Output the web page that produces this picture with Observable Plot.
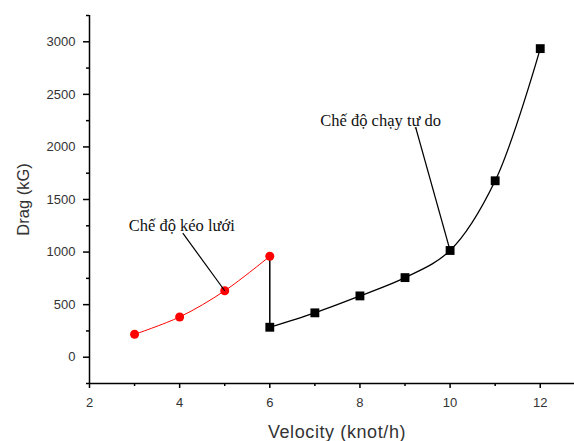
<!DOCTYPE html>
<html>
<head>
<meta charset="utf-8">
<script src="https://cdn.jsdelivr.net/npm/d3@7"></script>
<script src="https://cdn.jsdelivr.net/npm/@observablehq/plot@0.6"></script>
<style>
  html, body { margin: 0; padding: 0; background: #fff; }
</style>
</head>
<body>
<div id="chart"></div>
<script>
// Trawling mode (red)
const velocityTrawl = [3, 4, 5, 6];
const dragTrawl = [218, 383, 632, 960];
// Free running mode (black)
const velocityFree = [6, 7, 8, 9, 10, 11, 12];
const dragFree = [285, 422, 583, 757, 1015, 1678, 2935];

const xTicks = [2, 4, 6, 8, 10, 12];
const xMinorTicks = [3, 5, 7, 9, 11];
const yTicks = [0, 500, 1000, 1500, 2000, 2500, 3000];
const yMinorTicks = [-250, 250, 750, 1250, 1750, 2250, 2750, 3250];

const xTitle = "Velocity (knot/h)";
const yTitle = "Drag (kG)";

const annotationLabels = ["Chế độ kéo lưới", "Chế độ chạy tự do"];
const annotationTextX = [2.87, 7.12];
const annotationTextY = [1250, 2250];
const annotationLeadX = [4.07, 9.24];
const annotationLeadY = [1180, 2180];
const annotationTargetX = [5, 10];
const annotationTargetY = [632, 1015];

const trawl = velocityTrawl.map((v, i) => ({v, d: dragTrawl[i]}));
const free = velocityFree.map((v, i) => ({v, d: dragFree[i]}));
const jump = [{v: velocityTrawl[3], d1: dragTrawl[3], d2: dragFree[0]}];
const notes = annotationLabels.map((t, i) => ({
  t, x: annotationTextX[i], y: annotationTextY[i],
  x1: annotationLeadX[i], y1: annotationLeadY[i],
  x2: annotationTargetX[i], y2: annotationTargetY[i]
}));
const blank = () => "";
const plain = d3.format("d");

const chart = Plot.plot({
  width: 574,
  height: 441,
  marginLeft: 89,
  marginRight: 0,
  marginTop: 15,
  marginBottom: 58,
  x: {domain: [2, 12.76]},
  y: {domain: [-250, 3250]},
  style: {fontFamily: "'Liberation Sans', Arial, sans-serif", background: "#fff", color: "#000"},
  marks: [
    Plot.axisX({ticks: xTicks, tickSize: 5, tickPadding: 9, fontSize: 13, label: null, tickFormat: plain, stroke: "#000", strokeWidth: 1.5, fill: "#333"}),
    Plot.axisX({ticks: xMinorTicks, tickSize: 3, tickFormat: blank, label: null, stroke: "#000", strokeWidth: 1.5}),
    Plot.axisY({ticks: yTicks, tickSize: 6, tickPadding: 8, fontSize: 13, label: null, tickFormat: plain, stroke: "#000", strokeWidth: 1.5, fill: "#333"}),
    Plot.axisY({ticks: yMinorTicks, tickSize: 3, tickFormat: blank, label: null, stroke: "#000", strokeWidth: 1.5}),
    Plot.ruleY([-250], {stroke: "#000", strokeWidth: 1.5}),
    Plot.ruleX([2], {stroke: "#000", strokeWidth: 1.5}),
    Plot.text([yTitle], {frameAnchor: "left", textAnchor: "middle", lineAnchor: "middle", dx: -66, rotate: -90, fontSize: 16.5, fill: "#333"}),
    Plot.text([xTitle], {frameAnchor: "bottom", textAnchor: "middle", lineAnchor: "middle", dy: 49, dx: 5, fontSize: 18, fill: "#333"}),
    Plot.ruleX(jump, {x: "v", y1: "d1", y2: "d2", stroke: "#000", strokeWidth: 1.5}),
    Plot.line(trawl, {x: "v", y: "d", stroke: "#ff0000", strokeWidth: 1, curve: "catmull-rom"}),
    Plot.line(free, {x: "v", y: "d", stroke: "#000", strokeWidth: 1.3, curve: "catmull-rom"}),
    Plot.dot(trawl, {x: "v", y: "d", r: 4.5, fill: "#ff0000", stroke: "none"}),
    Plot.dot(free, {x: "v", y: "d", symbol: "square", r: 5, fill: "#000", stroke: "none"}),
    Plot.link(notes, {x1: "x1", y1: "y1", x2: "x2", y2: "y2", stroke: "#000", strokeWidth: 1.2}),
    Plot.text(notes, {x: "x", y: "y", text: "t", textAnchor: "start", lineAnchor: "middle", fontSize: 16.5, fontFamily: "'Liberation Serif', 'Times New Roman', serif", fill: "#111"})
  ]
});
d3.select(chart).selectAll("text")
  .filter(function() { return this.textContent === xTitle; })
  .style("letter-spacing", "0.6px");
document.getElementById("chart").appendChild(chart);
</script>
</body>
</html>
